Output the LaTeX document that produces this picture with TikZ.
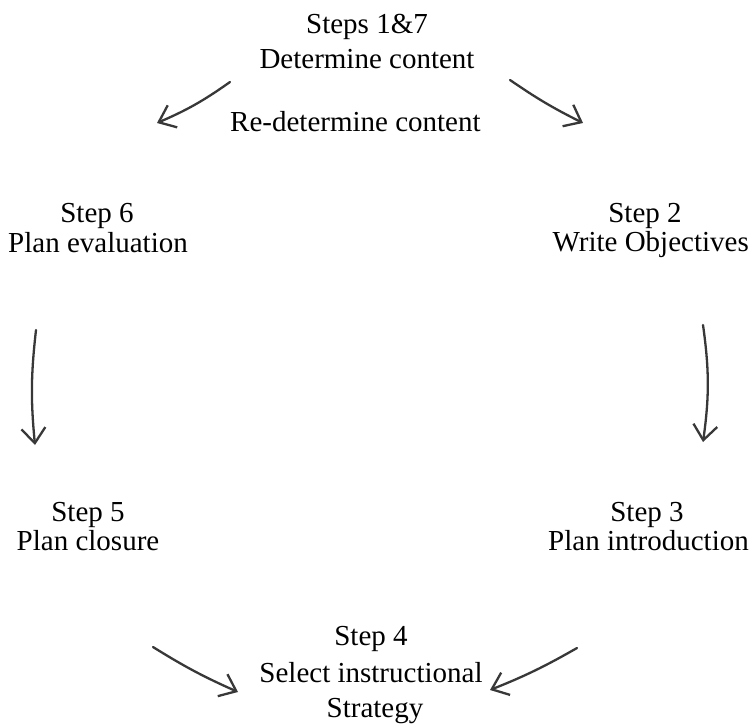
\documentclass[tikz,border=0pt]{standalone}
\usepackage{fontspec}
\setmainfont{Liberation Serif}
\usetikzlibrary{arrows.meta}
\begin{document}
\begin{tikzpicture}[x=1pt,y=-1pt,
  lbl/.style={anchor=base,inner sep=0pt,font=\fontsize{29}{34}\selectfont},
  lblr/.style={lbl,anchor=base east},
  lbll/.style={lbl,anchor=base west},
  flow/.style={draw=black!78,line width=2.3pt,line cap=round,
    -{Straight Barb[length=15pt,width=24pt,line width=2.3pt]}}]
\useasboundingbox (0,0) rectangle (752,727);
% texts
\node[lbl] (s1a) at (367,34) {Steps 1\&7};
\node[lbl] (s1b) at (367,69) {Determine content};
\node[lbll] (re) at (230,132) {Re-determine content};
\node[lbl] (s6a) at (97,223) {Step 6};
\node[lbl] (s6b) at (98,253) {Plan evaluation};
\node[lbl] (s2a) at (645,223) {Step 2};
\node[lblr] (s2b) at (749,252) {Write Objectives};
\node[lbl] (s5a) at (88,521) {Step 5};
\node[lbl] (s5b) at (88,550) {Plan closure};
\node[lbl] (s3a) at (647,521) {Step 3};
\node[lblr] (s3b) at (749,550) {Plan introduction};
\node[lbl] (s4a) at (371,645) {Step 4};
\node[lbl] (s4b) at (371,682) {Select instructional};
\node[lbl] (s4c) at (375,717) {Strategy};
% arrow ends
\coordinate (a1s) at (230,82);  \coordinate (a1e) at (157,123);
\coordinate (a2s) at (510,80);  \coordinate (a2e) at (583,123);
\coordinate (a3s) at (36,330);  \coordinate (a3e) at (35,445);
\coordinate (a4s) at (703,325); \coordinate (a4e) at (703,442);
\coordinate (a5s) at (153,647); \coordinate (a5e) at (238,692);
\coordinate (a6s) at (577,648); \coordinate (a6e) at (490,690);
\draw[flow] (a1s) to[bend left=6] (a1e);
\draw[flow] (a2s) to[bend right=4] (a2e);
\draw[flow] (a3s) to[bend right=6] (a3e);
\draw[flow] (a4s) to[bend left=8] (a4e);
\draw[flow] (a5s) to[bend right=4] (a5e);
\draw[flow] (a6s) to[bend left=4] (a6e);
\end{tikzpicture}
\end{document}
